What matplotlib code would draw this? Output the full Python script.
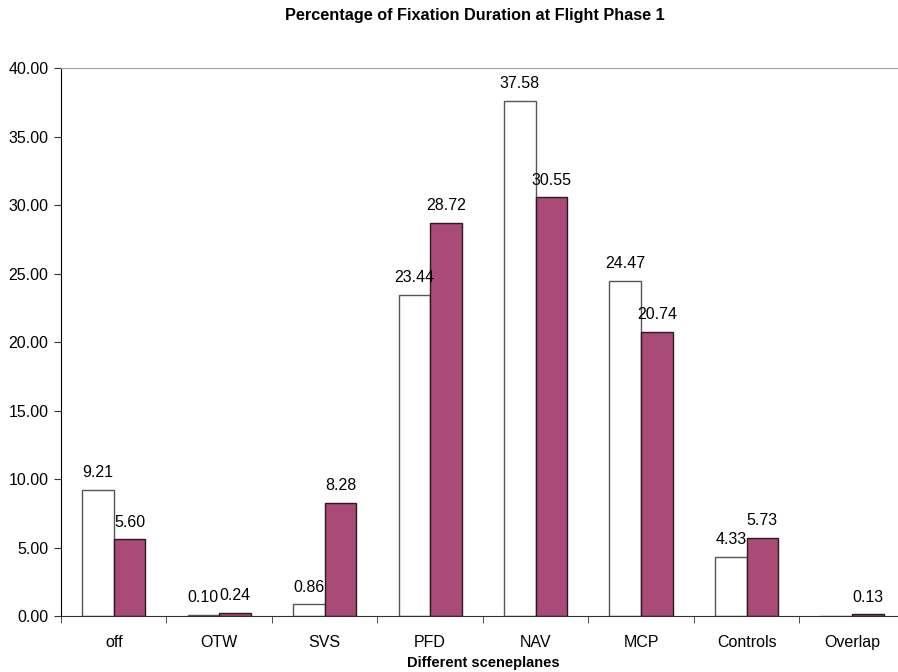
import matplotlib
matplotlib.use('Agg')
import matplotlib.pyplot as plt
import numpy as np

plt.rcParams['font.family'] = ['Liberation Sans', 'DejaVu Sans']

categories = ['off', 'OTW', 'SVS', 'PFD', 'NAV', 'MCP', 'Controls', 'Overlap']
series_a = [9.21, 0.10, 0.86, 23.44, 37.58, 24.47, 4.33, 0.00]
series_b = [5.60, 0.24, 8.28, 28.72, 30.55, 20.74, 5.73, 0.13]
yticks = [0, 5, 10, 15, 20, 25, 30, 35, 40]

fig = plt.figure(figsize=(8.98, 6.72), dpi=100)
ax = fig.add_axes([0.0679, 0.0833, 0.9397, 0.8155])

x = np.arange(len(categories))
w = 0.3
bars_a = ax.bar(x - w / 2, series_a, w, color='white', edgecolor='#555555', linewidth=1)
bars_b = ax.bar(x + w / 2, series_b, w, color='#A94A77', edgecolor='#2a1a22', linewidth=1)

for bars, vals in ((bars_a, series_a), (bars_b, series_b)):
    for b, v in zip(bars, vals):
        if v == 0:
            continue
        ax.annotate('%.2f' % v, (b.get_x() + b.get_width() / 2, v),
                    xytext=(0, 7), textcoords='offset points',
                    ha='center', va='bottom', fontsize=11.5)

ax.set_xlim(-0.5, len(categories) - 0.5)
ax.set_ylim(0, 40)
ax.set_yticks(yticks)
ax.set_yticklabels(['%.2f' % t for t in yticks], fontsize=11.5)

# category labels in the middle, tick marks on the boundaries
ax.set_xticks(x)
ax.set_xticklabels(categories, fontsize=11.5)
ax.tick_params(axis='x', length=0, pad=14)
ax.set_xticks(np.arange(len(categories) + 1) - 0.5, minor=True)
ax.tick_params(axis='x', which='minor', length=5, direction='out', color='#333333')
ax.tick_params(axis='y', length=5, direction='out', color='#333333', pad=4)

ax.spines['right'].set_visible(False)
ax.spines['top'].set_color('#a0a0a0')
ax.spines['left'].set_color('black')
ax.spines['bottom'].set_color('#333333')

ax.set_xlabel('Different sceneplanes', fontsize=10.5, fontweight='bold', labelpad=4)
fig.text(0.529, 0.988, 'Percentage of Fixation Duration at Flight Phase 1',
         ha='center', va='top', fontsize=11.7, fontweight='bold')

fig.savefig('out.png', dpi=100)
